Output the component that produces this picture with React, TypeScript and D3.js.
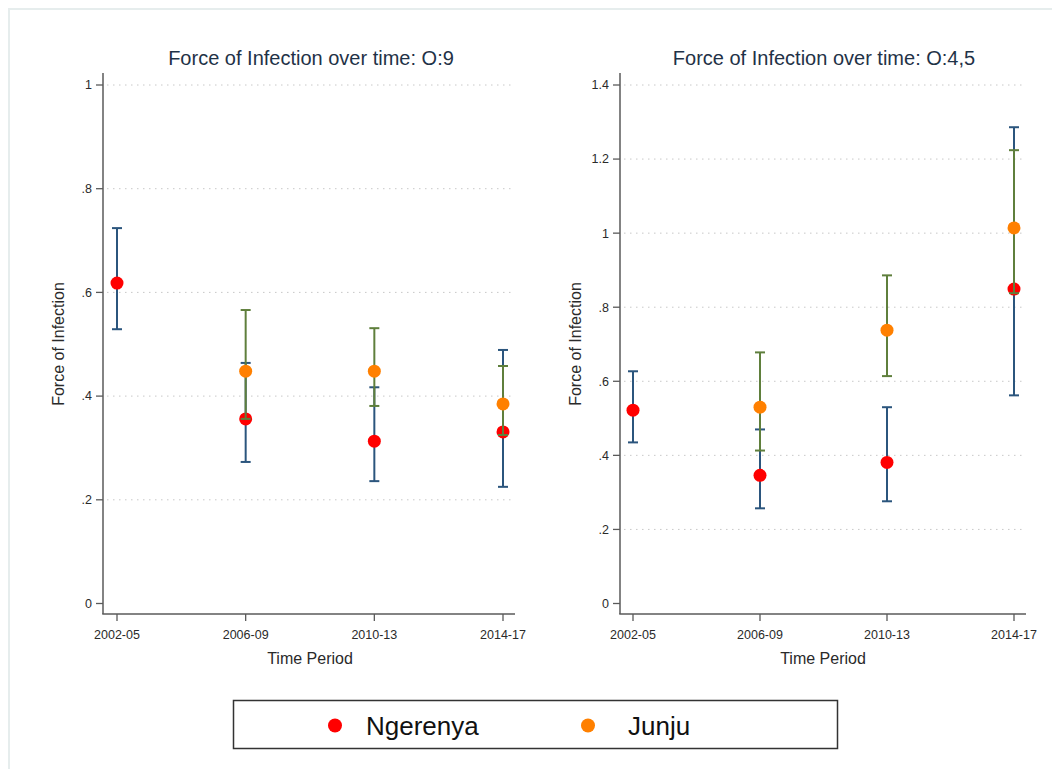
import React from "react";
import * as d3 from "d3";

const periods = ["2002-05", "2006-09", "2010-13", "2014-17"];

// O:9 panel
const o9Ngerenya = [0.618, 0.356, 0.313, 0.331];
const o9NgerenyaLo = [0.529, 0.273, 0.236, 0.225];
const o9NgerenyaHi = [0.724, 0.464, 0.417, 0.489];
const o9Junju = [null, 0.448, 0.448, 0.385];
const o9JunjuLo = [null, 0.356, 0.381, 0.325];
const o9JunjuHi = [null, 0.566, 0.531, 0.458];
const o9Ticks = [0, 0.2, 0.4, 0.6, 0.8, 1];

// O:4,5 panel
const o45Ngerenya = [0.522, 0.346, 0.381, 0.849];
const o45NgerenyaLo = [0.435, 0.257, 0.276, 0.562];
const o45NgerenyaHi = [0.627, 0.47, 0.53, 1.286];
const o45Junju = [null, 0.53, 0.738, 1.014];
const o45JunjuLo = [null, 0.413, 0.614, 0.838];
const o45JunjuHi = [null, 0.678, 0.886, 1.224];
const o45Ticks = [0, 0.2, 0.4, 0.6, 0.8, 1, 1.2, 1.4];

const seriesNames = ["Ngerenya", "Junju"];

const FONT = "'Liberation Sans', Arial, sans-serif";
const BLUE = "#2b557d";
const GREEN = "#5f7f3c";
const RED = "#ff0000";
const ORANGE = "#ff8000";
const AXIS = "#5a5a5a";
const TEXT = "#2a2a2a";
const TITLE = "#1f3247";

const fmt = (v: number) => {
  if (v === 0) return "0";
  const s = d3.format(".1f")(v);
  return s.startsWith("0") ? s.slice(1) : s.replace(/\.0$/, "");
};

type PanelProps = {
  title: string;
  left: number;
  right: number;
  center: number;
  yTop: number;
  yMax: number;
  ticks: number[];
  xFirst: number;
  xLast: number;
  ng: (number | null)[];
  ngLo: (number | null)[];
  ngHi: (number | null)[];
  ju: (number | null)[];
  juLo: (number | null)[];
  juHi: (number | null)[];
};

function Panel(p: PanelProps) {
  const axisY = 614;
  const y = d3.scaleLinear().domain([0, p.yMax]).range([603.5, p.yTop]);
  const x = d3
    .scalePoint<string>()
    .domain(periods)
    .range([p.xFirst, p.xLast]);
  const cap = 5;

  const ci = (
    vals: (number | null)[],
    lo: (number | null)[],
    hi: (number | null)[],
    color: string,
    key: string
  ) =>
    periods.map((per, i) => {
      if (vals[i] == null) return null;
      const cx = x(per)!;
      const y0 = y(lo[i] as number);
      const y1 = y(hi[i] as number);
      return (
        <g key={key + i} stroke={color} strokeWidth={2}>
          <line x1={cx} x2={cx} y1={y0} y2={y1} />
          <line x1={cx - cap} x2={cx + cap} y1={y0} y2={y0} />
          <line x1={cx - cap} x2={cx + cap} y1={y1} y2={y1} />
        </g>
      );
    });

  const dots = (vals: (number | null)[], color: string, key: string) =>
    periods.map((per, i) =>
      vals[i] == null ? null : (
        <circle
          key={key + i}
          cx={x(per)!}
          cy={y(vals[i] as number)}
          r={6.5}
          fill={color}
        />
      )
    );

  return (
    <g>
      <text
        x={p.center}
        y={65}
        textAnchor="middle"
        fontFamily={FONT}
        fontSize={20}
        fill={TITLE}
      >
        {p.title}
      </text>
      {/* gridlines */}
      {p.ticks
        .filter((t) => t > 0)
        .map((t) => (
          <line
            key={"g" + t}
            x1={p.left + 4}
            x2={p.right}
            y1={y(t)}
            y2={y(t)}
            stroke="#c8c8c8"
            strokeWidth={1}
            strokeDasharray="1.5,4.5"
          />
        ))}
      {/* y axis */}
      <line
        x1={p.left}
        x2={p.left}
        y1={73}
        y2={axisY}
        stroke={AXIS}
        strokeWidth={1.5}
      />
      {p.ticks.map((t) => (
        <g key={"yt" + t}>
          <line
            x1={p.left - 7}
            x2={p.left}
            y1={y(t)}
            y2={y(t)}
            stroke={AXIS}
            strokeWidth={1.3}
          />
          <text
            x={p.left - 11}
            y={y(t)}
            dy="0.35em"
            textAnchor="end"
            fontFamily={FONT}
            fontSize={12.5}
            fill={TEXT}
          >
            {fmt(t)}
          </text>
        </g>
      ))}
      <text
        transform={`translate(${p.left - 39},344) rotate(-90)`}
        textAnchor="middle"
        fontFamily={FONT}
        fontSize={16}
        fill={TEXT}
      >
        Force of Infection
      </text>
      {/* x axis */}
      <line
        x1={p.left - 0.75}
        x2={p.right}
        y1={axisY}
        y2={axisY}
        stroke={AXIS}
        strokeWidth={1.5}
      />
      {periods.map((per) => (
        <g key={"xt" + per}>
          <line
            x1={x(per)!}
            x2={x(per)!}
            y1={axisY}
            y2={axisY + 7}
            stroke={AXIS}
            strokeWidth={1.3}
          />
          <text
            x={x(per)!}
            y={639}
            textAnchor="middle"
            fontFamily={FONT}
            fontSize={12.5}
            fill={TEXT}
          >
            {per}
          </text>
        </g>
      ))}
      <text
        x={p.center - 1}
        y={664}
        textAnchor="middle"
        fontFamily={FONT}
        fontSize={16}
        fill={TEXT}
      >
        Time Period
      </text>
      {ci(p.ng, p.ngLo, p.ngHi, BLUE, "nci")}
      {dots(p.ng, RED, "nd")}
      {ci(p.ju, p.juLo, p.juHi, GREEN, "jci")}
      {dots(p.ju, ORANGE, "jd")}
    </g>
  );
}

export default function App() {
  return (
    <svg
      width={1052}
      height={769}
      style={{ position: "absolute", left: 0, top: 0, background: "#fff" }}
    >
      <rect width={1052} height={769} fill="#fff" />
      <line x1={9} x2={9} y1={8} y2={769} stroke="#e6eded" strokeWidth={2} />
      <line x1={8} x2={1052} y1={9} y2={9} stroke="#e6eded" strokeWidth={2} />
      <Panel
        title="Force of Infection over time: O:9"
        left={103}
        right={515}
        center={311}
        yTop={85}
        yMax={1}
        ticks={o9Ticks}
        xFirst={117}
        xLast={503}
        ng={o9Ngerenya}
        ngLo={o9NgerenyaLo}
        ngHi={o9NgerenyaHi}
        ju={o9Junju}
        juLo={o9JunjuLo}
        juHi={o9JunjuHi}
      />
      <Panel
        title="Force of Infection over time: O:4,5"
        left={620}
        right={1026}
        center={824}
        yTop={85}
        yMax={1.4}
        ticks={o45Ticks}
        xFirst={633}
        xLast={1014}
        ng={o45Ngerenya}
        ngLo={o45NgerenyaLo}
        ngHi={o45NgerenyaHi}
        ju={o45Junju}
        juLo={o45JunjuLo}
        juHi={o45JunjuHi}
      />
      {/* legend */}
      <rect
        x={233.5}
        y={700.5}
        width={604}
        height={48}
        fill="#fff"
        stroke="#333"
        strokeWidth={1.5}
      />
      {[RED, ORANGE].map((c, i) => (
        <g key={"lg" + i}>
          <circle cx={335 + i * 253} cy={725.5} r={7} fill={c} />
          <text
            x={366 + i * 262}
            y={735}
            fontFamily={FONT}
            fontSize={26}
            fill="#111"
          >
            {seriesNames[i]}
          </text>
        </g>
      ))}
    </svg>
  );
}
